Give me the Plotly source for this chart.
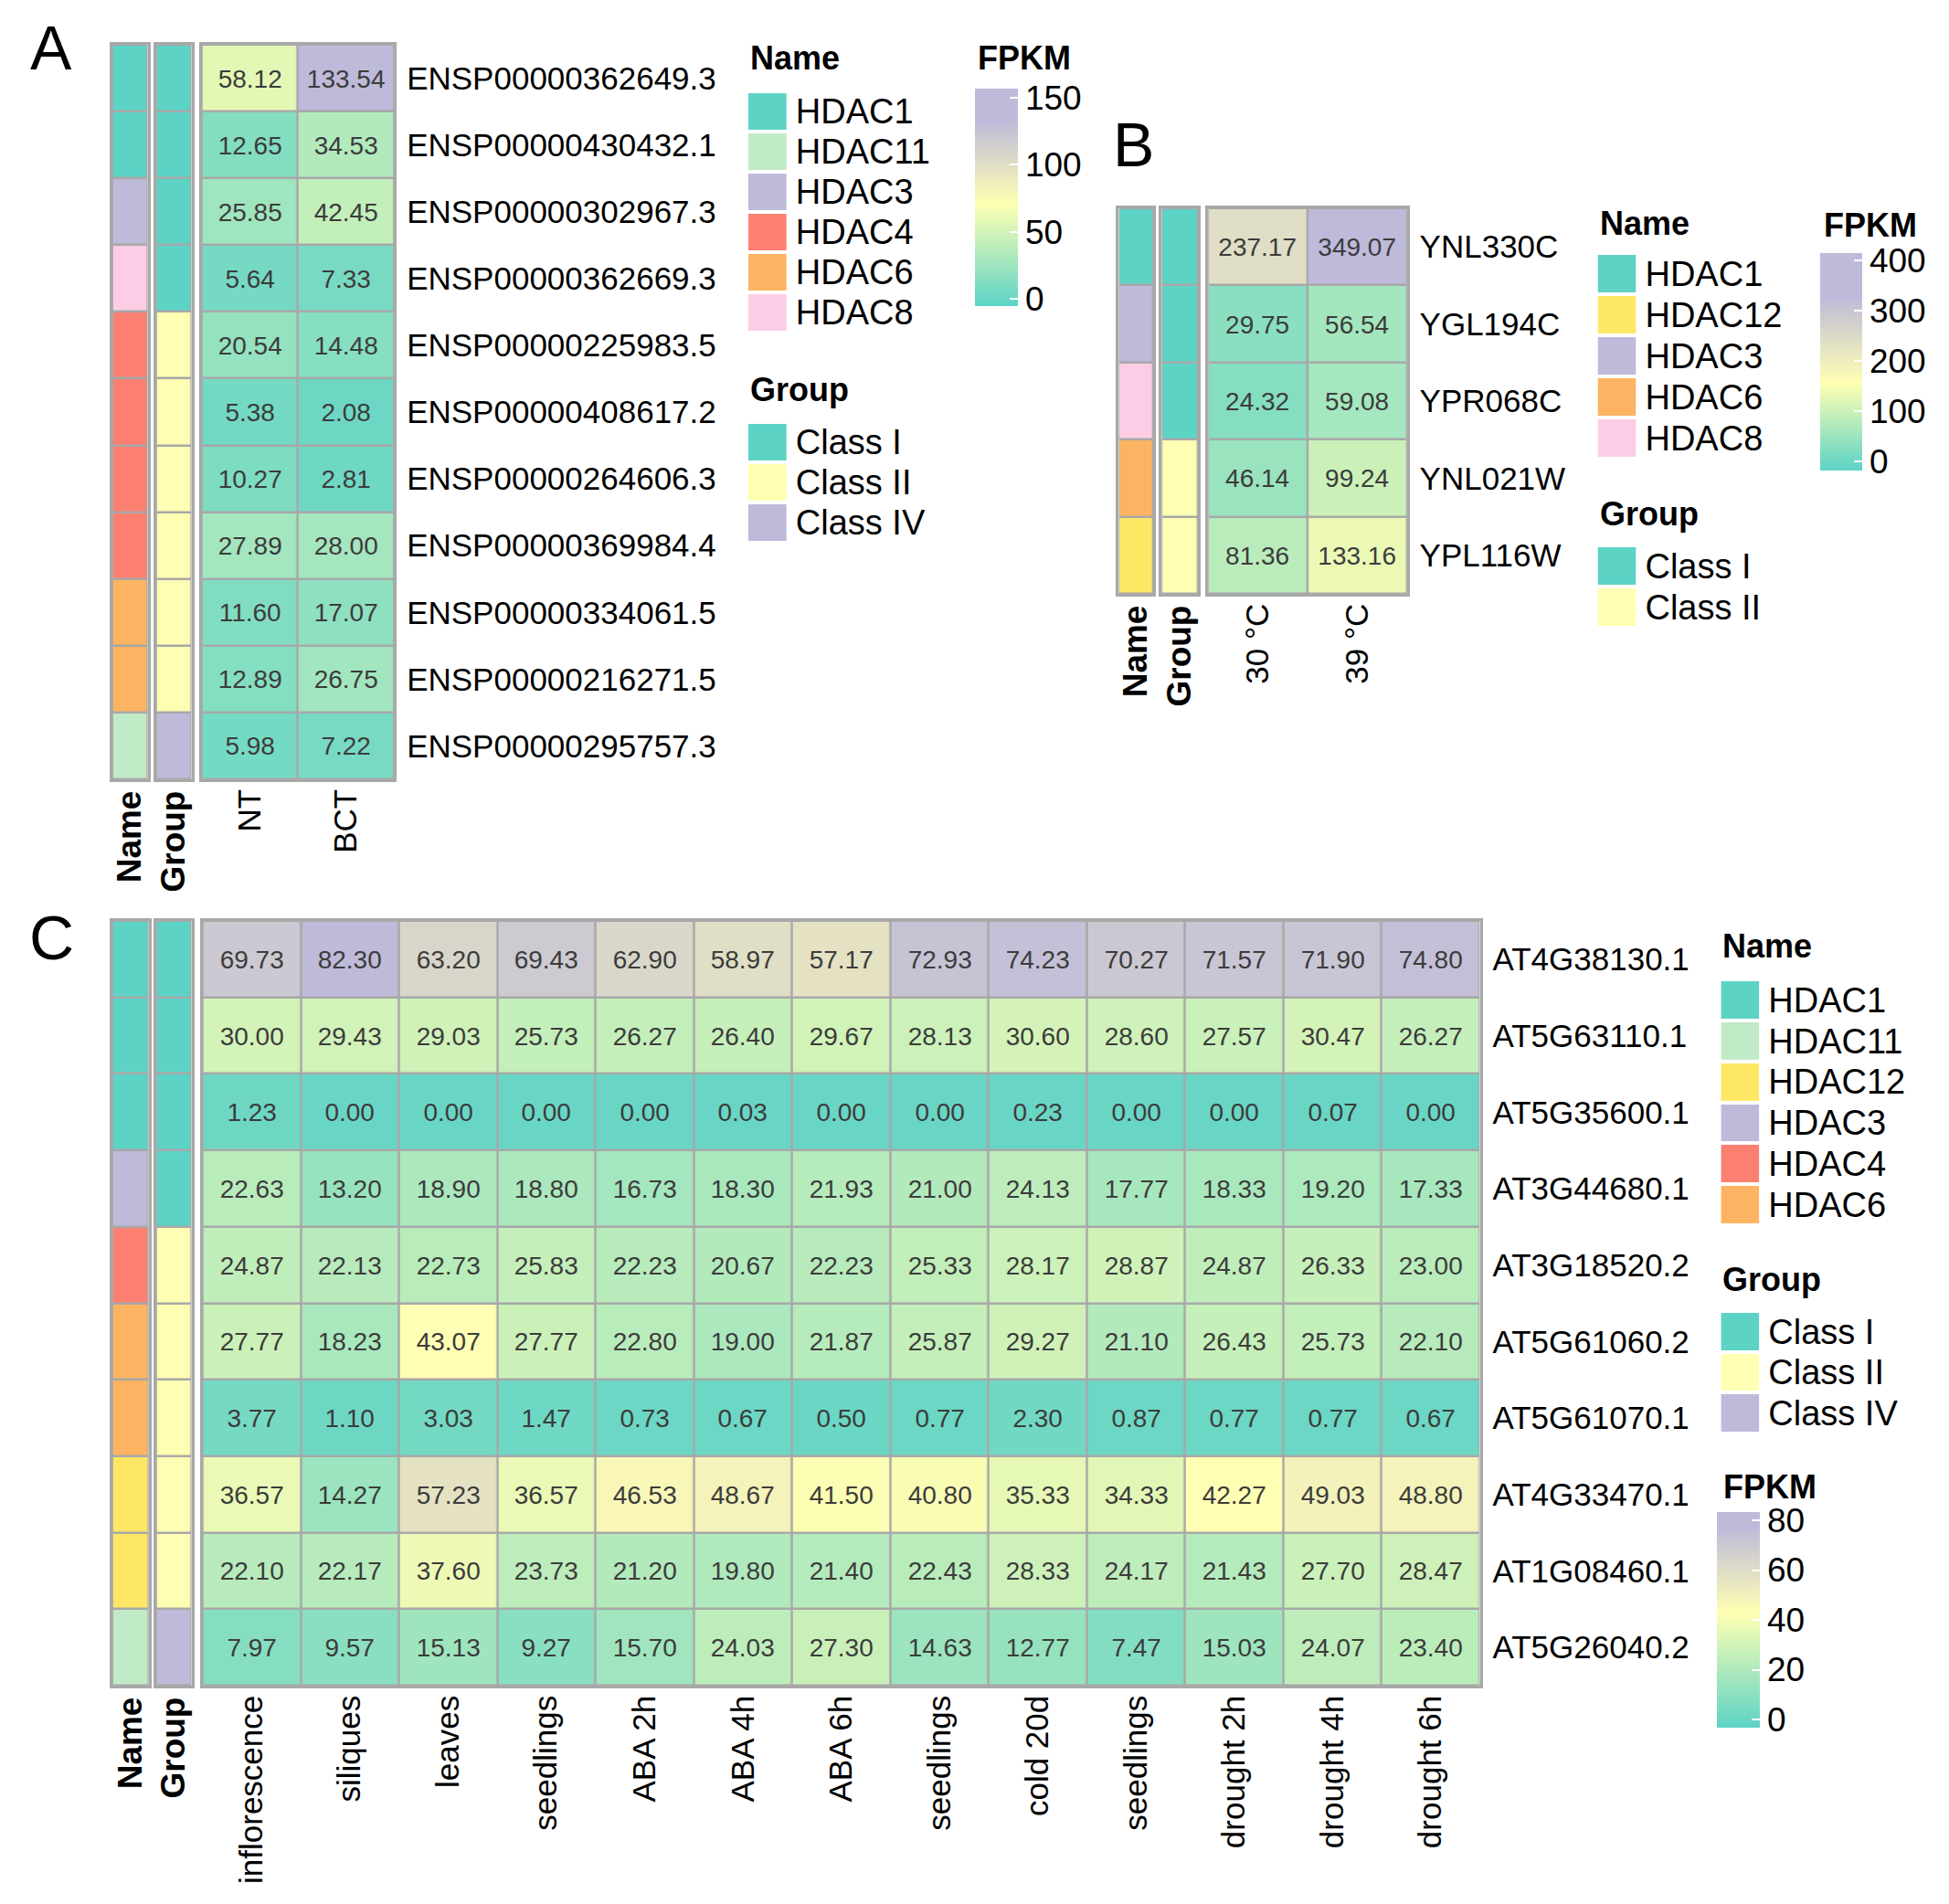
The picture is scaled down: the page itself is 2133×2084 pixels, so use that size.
import plotly.graph_objects as go

W, H = 2133, 2084
FONT = "Liberation Sans, Arial, sans-serif"
GRID = "#A8A8A8"
TXT = "#3c3c3c"

# ---------------- colours ----------------
NAME_COLORS = {"HDAC1": "#5DD3C6", "HDAC11": "#C0EBC6", "HDAC12": "#FFE766",
               "HDAC3": "#BEBADA", "HDAC4": "#FB8072", "HDAC6": "#FDB462",
               "HDAC8": "#FCCDE5"}
GROUP_COLORS = {"Class I": "#5DD3C6", "Class II": "#FFFFB3", "Class IV": "#BEBADA"}
TEAL, YELLOW, LAVENDER = "#5DD3C6", "#FFFFB3", "#BEBADA"
SCALE_A = [[0, TEAL], [0.47, YELLOW], [0.85, LAVENDER], [1, LAVENDER]]
SCALE_B = [[0, TEAL], [0.40, YELLOW], [0.80, LAVENDER], [1, LAVENDER]]
SCALE_C = [[0, TEAL], [0.53, YELLOW], [0.93, LAVENDER], [1, LAVENDER]]

# ---------------- panel A data ----------------
a_genes = ["ENSP00000362649.3", "ENSP00000430432.1", "ENSP00000302967.3",
           "ENSP00000362669.3", "ENSP00000225983.5", "ENSP00000408617.2",
           "ENSP00000264606.3", "ENSP00000369984.4", "ENSP00000334061.5",
           "ENSP00000216271.5", "ENSP00000295757.3"]
a_cols = ["NT", "BCT"]
a_nt = [58.12, 12.65, 25.85, 5.64, 20.54, 5.38, 10.27, 27.89, 11.60, 12.89, 5.98]
a_bct = [133.54, 34.53, 42.45, 7.33, 14.48, 2.08, 2.81, 28.00, 17.07, 26.75, 7.22]
a_names = ["HDAC1", "HDAC1", "HDAC3", "HDAC8", "HDAC4", "HDAC4", "HDAC4", "HDAC4",
           "HDAC6", "HDAC6", "HDAC11"]
a_groups = ["Class I", "Class I", "Class I", "Class I", "Class II", "Class II",
            "Class II", "Class II", "Class II", "Class II", "Class IV"]
a_name_legend = ["HDAC1", "HDAC11", "HDAC3", "HDAC4", "HDAC6", "HDAC8"]
a_group_legend = ["Class I", "Class II", "Class IV"]
a_ticks = [0, 50, 100, 150]

# ---------------- panel B data ----------------
b_genes = ["YNL330C", "YGL194C", "YPR068C", "YNL021W", "YPL116W"]
b_cols = ["30 \u00b0C", "39 \u00b0C"]
b_30 = [237.17, 29.75, 24.32, 46.14, 81.36]
b_39 = [349.07, 56.54, 59.08, 99.24, 133.16]
b_names = ["HDAC1", "HDAC3", "HDAC8", "HDAC6", "HDAC12"]
b_groups = ["Class I", "Class I", "Class I", "Class II", "Class II"]
b_name_legend = ["HDAC1", "HDAC12", "HDAC3", "HDAC6", "HDAC8"]
b_group_legend = ["Class I", "Class II"]
b_ticks = [0, 100, 200, 300, 400]

# ---------------- panel C data ----------------
c_genes = ["AT4G38130.1", "AT5G63110.1", "AT5G35600.1", "AT3G44680.1",
           "AT3G18520.2", "AT5G61060.2", "AT5G61070.1", "AT4G33470.1",
           "AT1G08460.1", "AT5G26040.2"]
c_cols = ["inflorescence", "siliques", "leaves", "seedlings", "ABA 2h", "ABA 4h",
          "ABA 6h", "seedlings", "cold 20d", "seedlings", "drought 2h",
          "drought 4h", "drought 6h"]
c_at4g38130 = [69.73, 82.30, 63.20, 69.43, 62.90, 58.97, 57.17, 72.93, 74.23, 70.27, 71.57, 71.90, 74.80]
c_at5g63110 = [30.00, 29.43, 29.03, 25.73, 26.27, 26.40, 29.67, 28.13, 30.60, 28.60, 27.57, 30.47, 26.27]
c_at5g35600 = [1.23, 0.00, 0.00, 0.00, 0.00, 0.03, 0.00, 0.00, 0.23, 0.00, 0.00, 0.07, 0.00]
c_at3g44680 = [22.63, 13.20, 18.90, 18.80, 16.73, 18.30, 21.93, 21.00, 24.13, 17.77, 18.33, 19.20, 17.33]
c_at3g18520 = [24.87, 22.13, 22.73, 25.83, 22.23, 20.67, 22.23, 25.33, 28.17, 28.87, 24.87, 26.33, 23.00]
c_at5g61060 = [27.77, 18.23, 43.07, 27.77, 22.80, 19.00, 21.87, 25.87, 29.27, 21.10, 26.43, 25.73, 22.10]
c_at5g61070 = [3.77, 1.10, 3.03, 1.47, 0.73, 0.67, 0.50, 0.77, 2.30, 0.87, 0.77, 0.77, 0.67]
c_at4g33470 = [36.57, 14.27, 57.23, 36.57, 46.53, 48.67, 41.50, 40.80, 35.33, 34.33, 42.27, 49.03, 48.80]
c_at1g08460 = [22.10, 22.17, 37.60, 23.73, 21.20, 19.80, 21.40, 22.43, 28.33, 24.17, 21.43, 27.70, 28.47]
c_at5g26040 = [7.97, 9.57, 15.13, 9.27, 15.70, 24.03, 27.30, 14.63, 12.77, 7.47, 15.03, 24.07, 23.40]
c_names = ["HDAC1", "HDAC1", "HDAC1", "HDAC3", "HDAC4", "HDAC6", "HDAC6", "HDAC12",
           "HDAC12", "HDAC11"]
c_groups = ["Class I", "Class I", "Class I", "Class I", "Class II", "Class II",
            "Class II", "Class II", "Class II", "Class IV"]
c_name_legend = ["HDAC1", "HDAC11", "HDAC12", "HDAC3", "HDAC4", "HDAC6"]
c_group_legend = ["Class I", "Class II", "Class IV"]
c_ticks = [0, 20, 40, 60, 80]

a_values = [list(r) for r in zip(a_nt, a_bct)]
b_values = [list(r) for r in zip(b_30, b_39)]
c_values = [c_at4g38130, c_at5g63110, c_at5g35600, c_at3g44680, c_at3g18520,
            c_at5g61060, c_at5g61070, c_at4g33470, c_at1g08460, c_at5g26040]

# ---------------- helpers ----------------
fig = go.Figure()
layout = {}
annotations = []
counter = [0]


def new_axes(x0, x1, y0, y1):
    counter[0] += 1
    i = counter[0]
    xn = "xaxis" if i == 1 else f"xaxis{i}"
    yn = "yaxis" if i == 1 else f"yaxis{i}"
    xr = "x" if i == 1 else f"x{i}"
    yr = "y" if i == 1 else f"y{i}"
    base = dict(showgrid=False, zeroline=False, fixedrange=True, ticks="")
    layout[xn] = dict(base, domain=[x0 / W, x1 / W], anchor=yr)
    layout[yn] = dict(base, domain=[1 - y1 / H, 1 - y0 / H], anchor=xr)
    return xn, yn, xr, yr


def discrete_scale(colors):
    n = len(colors)
    cs = []
    for k, c in enumerate(colors):
        cs.append([k / n, c])
        cs.append([(k + 1) / n, c])
    return cs


def border(xn, yn):
    for a in (xn, yn):
        layout[a].update(showline=True, mirror=True, linecolor=GRID, linewidth=2.5)


def background(xr, yr, nrow, ncol):
    fig.add_trace(go.Heatmap(z=[[0] * ncol for _ in range(nrow)],
                             x=list(range(ncol)), y=list(range(nrow)),
                             colorscale=[[0, GRID], [1, GRID]], showscale=False,
                             hoverinfo="skip", xaxis=xr, yaxis=yr))


def anno_column(x0, x1, y0, y1, labels, legend, colors, title):
    xn, yn, xr, yr = new_axes(x0, x1, y0, y1)
    n = len(labels)
    background(xr, yr, n, 1)
    fig.add_trace(go.Heatmap(z=[[legend.index(v)] for v in labels],
                             x=[0], y=list(range(n)),
                             colorscale=discrete_scale([colors[c] for c in legend]),
                             zmin=-0.5, zmax=len(legend) - 0.5, showscale=False,
                             xgap=2.5, ygap=2.5, xaxis=xr, yaxis=yr,
                             hovertext=[[v] for v in labels], hoverinfo="text"))
    layout[xn].update(range=[-0.5, 0.5], tickvals=[0], ticktext=[f"<b>{title}</b>"],
                      tickangle=-90, tickfont=dict(size=37, color="black"),
                      ticklabelstandoff=-5)
    layout[yn].update(range=[n - 0.5, -0.5], showticklabels=False)
    border(xn, yn)


def main_heat(x0, x1, y0, y1, values, rows, cols, zmin, zmax, ticks, cb, scale):
    xn, yn, xr, yr = new_axes(x0, x1, y0, y1)
    nrow, ncol = len(rows), len(cols)
    background(xr, yr, nrow, ncol)
    fig.add_trace(go.Heatmap(
        z=values, x=list(range(ncol)), y=list(range(nrow)),
        colorscale=scale, zmin=zmin, zmax=zmax, xgap=2.5, ygap=2.5,
        texttemplate="%{z:.2f}", textfont=dict(size=28, color=TXT, family=FONT),
        xaxis=xr, yaxis=yr,
        colorbar=dict(x=cb[0] / W, xanchor="left", xpad=0,
                      y=1 - cb[2] / H, yanchor="top", ypad=0,
                      len=cb[3] - cb[2], lenmode="pixels",
                      thickness=cb[1] - cb[0], thicknessmode="pixels",
                      outlinewidth=0, tickvals=ticks, ticks="inside",
                      tickcolor="white", ticklen=9, tickwidth=2,
                      tickfont=dict(size=37, color="black", family=FONT))))
    layout[xn].update(range=[-0.5, ncol - 0.5], tickvals=list(range(ncol)),
                      ticktext=cols, tickangle=-90,
                      tickfont=dict(size=35, color="black"), ticklabelstandoff=-6)
    layout[yn].update(range=[nrow - 0.5, -0.5], tickvals=list(range(nrow)),
                      ticktext=rows, side="right",
                      tickfont=dict(size=35, color="black"), ticklabelstandoff=4)
    border(xn, yn)


def legend_swatches(x0, x1, y0, y1, legend, colors, title, title_y):
    xn, yn, xr, yr = new_axes(x0, x1, y0, y1)
    n = len(legend)
    fig.add_trace(go.Heatmap(z=[[k] for k in range(n)], x=[0], y=list(range(n)),
                             colorscale=discrete_scale([colors[c] for c in legend]),
                             zmin=-0.5, zmax=n - 0.5, showscale=False, ygap=4,
                             hoverinfo="skip", xaxis=xr, yaxis=yr))
    layout[xn].update(range=[-0.5, 0.5], showticklabels=False)
    layout[yn].update(range=[n - 0.5, -0.5], tickvals=list(range(n)), ticktext=legend,
                      side="right", tickfont=dict(size=38, color="black"),
                      ticklabelstandoff=9)
    annotations.append(dict(text=f"<b>{title}</b>", x=x0 / W, y=1 - title_y / H,
                            xref="paper", yref="paper", xanchor="left",
                            yanchor="middle", showarrow=False,
                            font=dict(size=36, color="black", family=FONT)))


def title_only(x, y, text):
    annotations.append(dict(text=f"<b>{text}</b>", x=x / W, y=1 - y / H,
                            xref="paper", yref="paper", xanchor="left",
                            yanchor="middle", showarrow=False,
                            font=dict(size=36, color="black", family=FONT)))


def letter(x, y, text):
    annotations.append(dict(text=text, x=x / W, y=1 - y / H, xref="paper",
                            yref="paper", xanchor="center", yanchor="middle",
                            showarrow=False,
                            font=dict(size=68, color="black", family=FONT)))


# ---------------- panel A ----------------
anno_column(121, 160, 49, 853, a_names, a_name_legend, NAME_COLORS, "Name")
anno_column(169, 208, 49, 853, a_groups, a_group_legend, GROUP_COLORS, "Group")
main_heat(219, 430, 49, 853, a_values, a_genes, a_cols, -5.5, 157, a_ticks,
          (1066, 1113, 97, 335), SCALE_A)
legend_swatches(818, 860, 100, 364, a_name_legend, NAME_COLORS, "Name", 64)
legend_swatches(818, 860, 462, 594, a_group_legend, GROUP_COLORS, "Group", 426)
title_only(1068, 64, "FPKM")
letter(54, 52, "A")

# ---------------- panel B ----------------
anno_column(1224, 1262, 228, 650, b_names, b_name_legend, NAME_COLORS, "Name")
anno_column(1271, 1311, 228, 650, b_groups, b_group_legend, GROUP_COLORS, "Group")
main_heat(1322, 1540, 228, 650, b_values, b_genes, b_cols, -18, 414, b_ticks,
          (1993, 2039, 277, 515), SCALE_B)
legend_swatches(1749, 1791, 277, 502, b_name_legend, NAME_COLORS, "Name", 245)
legend_swatches(1749, 1791, 597, 687, b_group_legend, GROUP_COLORS, "Group", 562)
title_only(1995, 246, "FPKM")
letter(1240, 158, "B")

# ---------------- panel C ----------------
anno_column(121, 161, 1008, 1845, c_names, c_name_legend, NAME_COLORS, "Name")
anno_column(169, 208, 1008, 1845, c_groups, c_group_legend, GROUP_COLORS, "Group")
main_heat(220, 1620, 1008, 1845, c_values, c_genes, c_cols, -3.3, 83.3, c_ticks,
          (1880, 1927, 1655, 1891), SCALE_C)
legend_swatches(1884, 1926, 1072, 1341, c_name_legend, NAME_COLORS, "Name", 1035)
legend_swatches(1884, 1926, 1435, 1569, c_group_legend, GROUP_COLORS, "Group", 1400)
title_only(1885, 1627, "FPKM")
letter(55, 1026, "C")

fig.update_layout(**layout)
fig.update_layout(width=W, height=H, margin=dict(l=0, r=0, t=0, b=0, pad=0),
                  paper_bgcolor="white", plot_bgcolor="white", showlegend=False,
                  font=dict(family=FONT, color="black"), annotations=annotations)

fig.write_html("out.html", config={"displayModeBar": False},
               post_script="document.body.style.margin='0';")
